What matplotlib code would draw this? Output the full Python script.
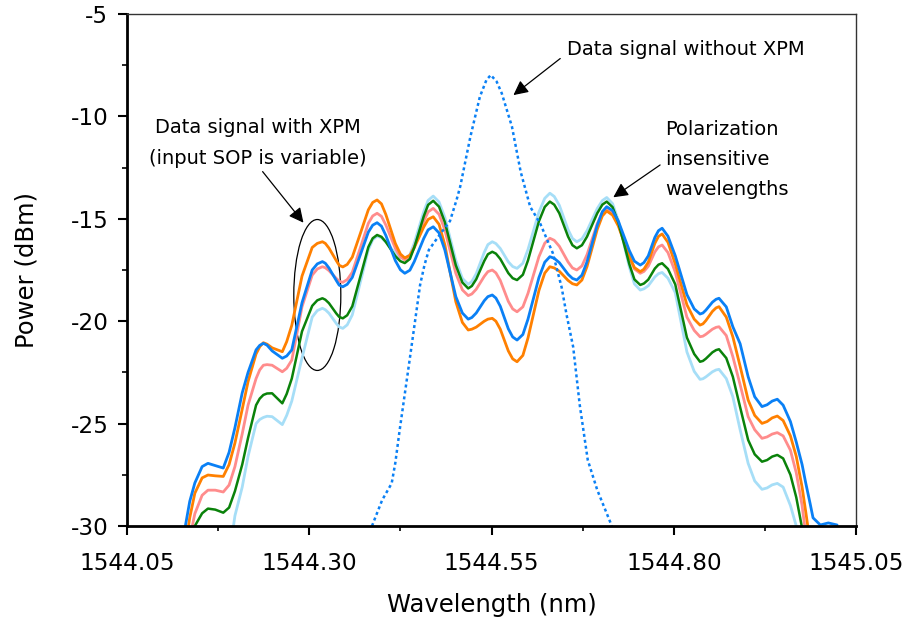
import numpy as np
import matplotlib
matplotlib.use("Agg")
import matplotlib.pyplot as plt
from matplotlib.patches import Ellipse

nan = np.nan

# Wavelength grid shared by the five XPM traces (nm)
wavelength = [
    1544.130, 1544.136, 1544.143, 1544.153, 1544.161, 1544.171, 1544.182,
    1544.190, 1544.198, 1544.208, 1544.216, 1544.227, 1544.232, 1544.237,
    1544.242, 1544.249, 1544.263, 1544.269, 1544.276, 1544.290, 1544.304,
    1544.311, 1544.318,
    1544.322, 1544.327, 1544.337, 1544.341, 1544.346,
    1544.352, 1544.359, 1544.370, 1544.381, 1544.387, 1544.393,
    1544.399, 1544.405, 1544.418, 1544.425, 1544.431,
    1544.438, 1544.444, 1544.457, 1544.463, 1544.470,
    1544.478, 1544.486, 1544.501, 1544.510, 1544.518,
    1544.523, 1544.529, 1544.540, 1544.545, 1544.551,
    1544.556, 1544.562, 1544.573, 1544.579, 1544.585,
    1544.593, 1544.600, 1544.615, 1544.623, 1544.630,
    1544.636, 1544.643, 1544.655, 1544.661, 1544.667,
    1544.674, 1544.681, 1544.695, 1544.702, 1544.708,
    1544.716, 1544.724, 1544.739, 1544.746, 1544.754,
    1544.759, 1544.765, 1544.774, 1544.779, 1544.784,
    1544.792, 1544.802, 1544.818, 1544.828, 1544.836,
    1544.840, 1544.844, 1544.853, 1544.858, 1544.862,
    1544.872, 1544.881, 1544.891, 1544.902, 1544.911, 1544.921,
    1544.928, 1544.935, 1544.942,
    1544.950, 1544.960, 1544.968, 1544.976, 1544.981, 1544.987, 1544.991,
    1545.001, 1545.012, 1545.024,
]

power_blue = [
    -30.0, -28.8, -27.9, -27.1, -26.94, -27.05, -27.17,
    -26.4, -25.2, -23.5, -22.5, -21.4, -21.18, -21.08,
    -21.17, -21.45, -21.81, -21.7, -21.4, -19.1, -17.5,
    -17.2, -17.09,
    -17.17, -17.40, -18.01, -18.24, -18.32,
    -18.20, -17.86, -16.76, -15.65, -15.31, -15.19,
    -15.36, -15.81, -17.04, -17.49, -17.66,
    -17.51, -17.09, -15.96, -15.54, -15.39,
    -15.69, -16.53, -18.80, -19.60, -19.9,
    -19.82, -19.6, -19.0, -18.80, -18.72,
    -18.87, -19.27, -20.37, -20.77, -20.92,
    -20.65, -19.90, -17.87, -17.12, -16.85,
    -16.93, -17.14, -17.71, -17.91, -17.99,
    -17.75, -17.10, -15.31, -14.65, -14.41,
    -14.60, -15.12, -16.55, -17.07, -17.26,
    -17.14, -16.81, -15.91, -15.58, -15.46,
    -15.85, -16.8, -18.7, -19.4, -19.65,
    -19.60, -19.46, -19.07, -18.93, -18.88,
    -19.3, -20.27, -21.1, -22.71, -23.69, -24.17,
    -24.08, -23.90, -23.81,
    -24.1, -24.9, -25.9, -27.0, -27.9, -28.9, -29.6,
    -29.95, -29.85, -29.95,
]

power_orange = [
    -31.0, -29.6, -28.4, -27.65, -27.51, -27.55, -27.58,
    -27.0, -25.95, -24.3, -22.95, -21.6, -21.25, -21.05,
    -21.12, -21.3, -21.49, -21.0, -20.2, -17.8, -16.4,
    -16.2, -16.12,
    -16.20, -16.43, -17.04, -17.27, -17.35,
    -17.23, -16.87, -15.72, -14.56, -14.20, -14.08,
    -14.27, -14.79, -16.20, -16.72, -16.91,
    -16.78, -16.41, -15.40, -15.03, -14.90,
    -15.27, -16.28, -19.05, -20.06, -20.43,
    -20.39, -20.29, -20.0, -19.90, -19.86,
    -20.00, -20.39, -21.45, -21.84, -21.98,
    -21.67, -20.82, -18.50, -17.65, -17.34,
    -17.40, -17.56, -18.01, -18.17, -18.23,
    -17.99, -17.33, -15.52, -14.86, -14.62,
    -14.82, -15.36, -16.84, -17.38, -17.58,
    -17.46, -17.12, -16.20, -15.86, -15.74,
    -16.15, -17.2, -19.2, -19.9, -20.19,
    -20.13, -19.97, -19.52, -19.35, -19.29,
    -19.8, -20.76, -22.2, -23.85, -24.6, -24.99,
    -24.9, -24.72, -24.63,
    -24.85, -25.6, -26.6, -28.1, -29.3, -30.8, nan,
    nan, nan, nan,
]

power_pink = [
    nan, -30.6, -29.4, -28.5, -28.25, -28.25, -28.34,
    -28.0, -27.1, -25.5, -24.1, -22.8, -22.38, -22.15,
    -22.12, -22.15, -22.47, -22.3, -21.9, -19.3, -17.75,
    -17.45, -17.34,
    -17.39, -17.53, -17.91, -18.05, -18.1,
    -17.97, -17.61, -16.42, -15.22, -14.86, -14.73,
    -14.88, -15.30, -16.44, -16.86, -17.01,
    -16.84, -16.38, -15.12, -14.66, -14.49,
    -14.78, -15.55, -17.66, -18.47, -18.75,
    -18.67, -18.44, -17.81, -17.58, -17.5,
    -17.64, -18.01, -19.03, -19.40, -19.54,
    -19.30, -18.64, -16.85, -16.19, -15.95,
    -16.05, -16.34, -17.11, -17.40, -17.5,
    -17.30, -16.75, -15.24, -14.69, -14.49,
    -14.70, -15.28, -16.87, -17.45, -17.66,
    -17.57, -17.32, -16.62, -16.37, -16.28,
    -16.65, -17.6, -19.8, -20.45, -20.76,
    -20.73, -20.64, -20.39, -20.30, -20.27,
    -20.7, -21.73, -23.1, -24.66, -25.3, -25.72,
    -25.65, -25.51, -25.44,
    -25.6, -26.3, -27.4, -29.0, -30.4, nan, nan,
    nan, nan, nan,
]

power_green = [
    nan, nan, -30.0, -29.38, -29.15, -29.2, -29.35,
    -29.1, -28.3, -27.0, -25.7, -24.1, -23.78, -23.6,
    -23.53, -23.52, -24.01, -23.55, -22.8, -20.5, -19.25,
    -18.98, -18.88,
    -18.95, -19.12, -19.62, -19.79, -19.86,
    -19.71, -19.27, -17.83, -16.38, -15.95, -15.79,
    -15.88, -16.13, -16.82, -17.07, -17.16,
    -16.96, -16.40, -14.88, -14.32, -14.12,
    -14.41, -15.17, -17.27, -18.11, -18.4,
    -18.28, -17.95, -17.06, -16.73, -16.61,
    -16.70, -16.96, -17.65, -17.90, -17.99,
    -17.73, -17.03, -15.12, -14.42, -14.16,
    -14.31, -14.73, -15.87, -16.29, -16.44,
    -16.29, -15.87, -14.73, -14.31, -14.16,
    -14.43, -15.18, -17.21, -17.96, -18.23,
    -18.16, -17.97, -17.43, -17.24, -17.17,
    -17.45, -18.2, -20.8, -21.6, -21.98,
    -21.94, -21.83, -21.52, -21.41, -21.37,
    -21.8, -22.71, -24.2, -25.8, -26.5, -26.86,
    -26.78, -26.61, -26.53,
    -26.7, -27.5, -28.6, -30.1, nan, nan, nan,
    nan, nan, nan,
]

power_lightblue = [
    nan, nan, nan, nan, nan, nan, nan,
    -31.5, -29.5, -28.1, -26.6, -25.0, -24.8, -24.7,
    -24.64, -24.66, -25.05, -24.6, -23.9, -21.8, -19.8,
    -19.48, -19.37,
    -19.44, -19.61, -20.11, -20.28, -20.35,
    -20.18, -19.69, -18.1, -16.51, -16.02, -15.85,
    -15.92, -16.13, -16.68, -16.88, -16.95,
    -16.75, -16.19, -14.65, -14.10, -13.89,
    -14.18, -14.94, -17.03, -17.91, -18.2,
    -18.06, -17.68, -16.64, -16.26, -16.12,
    -16.21, -16.45, -17.10, -17.33, -17.42,
    -17.17, -16.50, -14.67, -14.00, -13.75,
    -13.91, -14.34, -15.53, -15.96, -16.12,
    -15.98, -15.58, -14.50, -14.11, -13.96,
    -14.26, -15.09, -17.35, -18.18, -18.48,
    -18.42, -18.27, -17.84, -17.68, -17.62,
    -17.9, -18.6, -21.5, -22.45, -22.84,
    -22.81, -22.72, -22.47, -22.38, -22.35,
    -22.8, -23.69, -25.3, -26.94, -27.8, -28.21,
    -28.14, -27.99, -27.92,
    -28.1, -29.0, -30.0, -31.5, nan, nan, nan,
    nan, nan, nan,
]

# Data signal without XPM (dotted)
wavelength_noxpm = [
    1544.386, 1544.400, 1544.413, 1544.418, 1544.424, 1544.438, 1544.452,
    1544.458, 1544.464, 1544.477, 1544.493, 1544.502, 1544.507, 1544.521,
    1544.534, 1544.543, 1544.549, 1544.557, 1544.564, 1544.578, 1544.590,
    1544.603, 1544.617, 1544.634, 1544.646, 1544.653, 1544.662, 1544.671,
    1544.682, 1544.695, 1544.715,
]
power_noxpm = [
    -30.0, -28.73, -27.92, -26.92, -25.31, -21.8, -18.23,
    -17.26, -16.52, -15.87, -15.11, -14.08, -13.43, -10.99,
    -9.04, -8.22, -7.98, -8.3, -8.87, -10.5, -12.71,
    -14.41, -15.25, -16.67, -18.32, -19.7, -21.26, -24.09,
    -26.78, -28.24, -30.0,
]

x_major = [1544.05, 1544.30, 1544.55, 1544.80, 1545.05]
x_minor = [1544.175, 1544.425, 1544.675, 1544.925]
y_major = [-30, -25, -20, -15, -10, -5]
y_minor = [-27.5, -22.5, -17.5, -12.5, -7.5]


def main():
    plt.rcParams["font.family"] = ["DejaVu Sans"]
    plt.rcParams["axes.unicode_minus"] = False

    fig = plt.figure(figsize=(9.1, 6.25), dpi=100)
    ax = fig.add_axes([0.1396, 0.1584, 0.8011, 0.8192])

    traces = [
        (power_lightblue, "#a6def7", 2.0),
        (power_pink, "#ff8c8c", 2.0),
        (power_orange, "#ff8000", 2.0),
        (power_green, "#0a820a", 1.8),
        (power_blue, "#0a80f5", 2.0),
    ]
    for power, color, lw in traces:
        assert len(power) == len(wavelength)
        ax.plot(wavelength, power, color=color, lw=lw,
                solid_joinstyle="round", solid_capstyle="round")

    assert len(power_noxpm) == len(wavelength_noxpm)
    ax.plot(wavelength_noxpm, power_noxpm, color="#0a80f5", lw=1.8,
            linestyle=(0, (1.2, 1.2)))

    ax.add_patch(Ellipse((1544.311, -18.72), 0.0645, 7.37, fill=False,
                         edgecolor="black", lw=0.9))

    arrow = dict(arrowstyle="-|>", color="black", lw=0.9, mutation_scale=22,
                 shrinkA=0, shrinkB=0)
    ax.annotate("Data signal with XPM\n(input SOP is variable)",
                xy=(1544.292, -15.19), xytext=(1544.230, -11.3),
                ha="center", va="center", fontsize=14, linespacing=1.75,
                arrowprops=dict(arrow, relpos=(0.52, -0.08)))
    ax.annotate("Data signal without XPM",
                xy=(1544.580, -8.96), xytext=(1544.817, -6.71),
                ha="center", va="center", fontsize=14,
                arrowprops=dict(arrow, relpos=(-0.03, 0.0)))
    ax.annotate("Polarization\ninsensitive\nwavelengths",
                xy=(1544.717, -13.95), xytext=(1544.788, -12.1),
                ha="left", va="center", fontsize=14, linespacing=1.75,
                arrowprops=dict(arrow, relpos=(-0.04, 0.43)))

    ax.set_xlim(1544.05, 1545.05)
    ax.set_ylim(-30, -5)
    ax.set_xticks(x_major)
    ax.set_xticks(x_minor, minor=True)
    ax.set_xticklabels([f"{v:.2f}" for v in x_major])
    ax.set_yticks(y_major)
    ax.set_yticks(y_minor, minor=True)
    ax.set_yticklabels([str(v) for v in y_major])

    ax.tick_params(which="major", direction="out", length=6.5, width=1.5,
                   labelsize=16.7)
    ax.tick_params(which="minor", direction="out", length=3.6, width=1.2)
    ax.tick_params(axis="x", which="major", pad=12)
    ax.tick_params(axis="y", which="major", pad=7)

    for side in ["left", "bottom"]:
        ax.spines[side].set_linewidth(2.0)
    for side in ["top", "right"]:
        ax.spines[side].set_linewidth(1.0)
        ax.spines[side].set_color("#333333")

    ax.set_xlabel("Wavelength (nm)", fontsize=17.5, labelpad=13)
    ax.set_ylabel("Power (dBm)", fontsize=17.5, labelpad=23)

    fig.savefig("out.png", dpi=100)


if __name__ == "__main__":
    main()
